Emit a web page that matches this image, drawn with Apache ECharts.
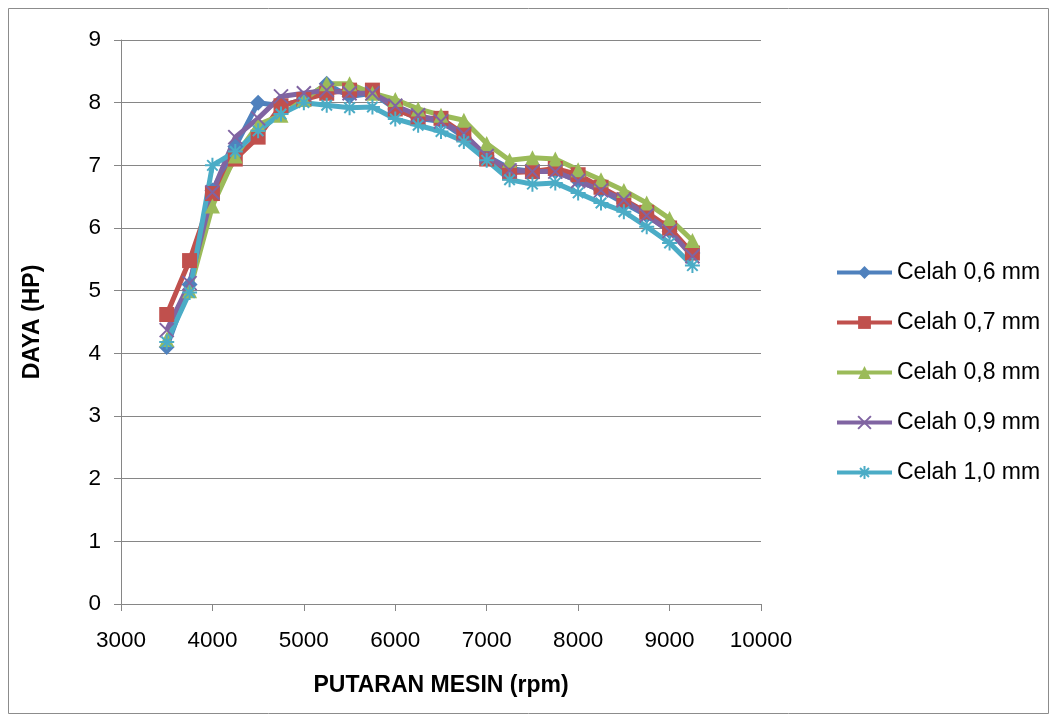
<!DOCTYPE html>
<html>
<head>
<meta charset="utf-8">
<script src="https://cdn.jsdelivr.net/npm/echarts@6/dist/echarts.min.js"></script>
<style>
  html, body { margin: 0; padding: 0; background: #fff; }
  #chart { width: 1057px; height: 722px; }
</style>
</head>
<body>
<div id="chart"></div>
<script>
// putaran mesin (rpm)
var rpm = [3500, 3750, 4000, 4250, 4500, 4750, 5000, 5250, 5500, 5750, 6000, 6250,
  6500, 6750, 7000, 7250, 7500, 7750, 8000, 8250, 8500, 8750, 9000, 9250]

// daya (HP) tiap celah
var celah06 = [4.1, 5.1, 6.6, 7.3, 8.0, 7.95, 8.05, 8.3, 8.1, 8.15, 7.9, 7.75,
  7.7, 7.45, 7.15, 6.95, 6.9, 6.9, 6.75, 6.6, 6.4, 6.2, 5.95, 5.6]
var celah07 = [4.62, 5.48, 6.55, 7.1, 7.45, 7.95, 8.05, 8.15, 8.2, 8.2, 7.9, 7.75,
  7.75, 7.5, 7.1, 6.88, 6.9, 6.95, 6.85, 6.65, 6.45, 6.25, 6.0, 5.6]
var celah08 = [4.22, 5.0, 6.35, 7.15, 7.65, 7.8, 8.05, 8.3, 8.3, 8.15, 8.05, 7.9,
  7.8, 7.72, 7.35, 7.08, 7.12, 7.1, 6.93, 6.77, 6.6, 6.4, 6.15, 5.8]
var celah09 = [4.37, 5.12, 6.57, 7.45, 7.75, 8.1, 8.15, 8.2, 8.15, 8.15, 7.95, 7.8,
  7.7, 7.5, 7.15, 6.92, 6.9, 6.9, 6.75, 6.6, 6.45, 6.2, 5.95, 5.55]
var celah10 = [4.18, 4.97, 7.0, 7.22, 7.55, 7.82, 8.0, 7.96, 7.92, 7.93, 7.74, 7.64,
  7.54, 7.38, 7.08, 6.77, 6.7, 6.72, 6.56, 6.4, 6.26, 6.02, 5.76, 5.4]

var names = ['Celah 0,6 mm', 'Celah 0,7 mm', 'Celah 0,8 mm', 'Celah 0,9 mm', 'Celah 1,0 mm']
var values = [celah06, celah07, celah08, celah09, celah10]
var colors = ['#4F81BD', '#C0504D', '#9BBB59', '#8064A2', '#4BACC6']
var symbols = [
  'diamond',
  'rect',
  'triangle',
  'path://M0,0L10,10M10,0L0,10',
  'path://M5,0L5,10M0,5L10,5M1.5,1.5L8.5,8.5M8.5,1.5L1.5,8.5'
]
var sizes = [16, 15, 15, 14, 15]

function pairs (ys) {
  var out = []
  for (var i = 0; i < rpm.length; i++) {
    out.push([rpm[i], ys[i]])
  }
  return out
}

var series = []
for (var k = 0; k < names.length; k++) {
  var stroked = k >= 3
  series.push({
    name: names[k],
    type: 'line',
    data: pairs(values[k]),
    symbol: symbols[k],
    symbolSize: sizes[k],
    showAllSymbol: true,
    lineStyle: { color: colors[k], width: 5 },
    itemStyle: {
      color: colors[k],
      borderColor: colors[k],
      borderWidth: stroked ? 2 : 0
    },
    emphasis: { disabled: true },
    animation: false
  })
}

var fontFam = '"Liberation Sans", "DejaVu Sans", sans-serif'
var myChart = echarts.init(document.getElementById('chart'))
myChart.setOption({
  backgroundColor: '#fff',
  graphic: [{
    type: 'rect',
    shape: { x: 8.5, y: 8.5, width: 1040, height: 705 },
    style: { fill: 'none', stroke: '#8c8c8c', lineWidth: 1 },
    silent: true
  }],
  grid: { left: 121, top: 40, width: 640, height: 564 },
  legend: {
    orient: 'vertical',
    left: 835,
    top: 261,
    padding: 0,
    itemWidth: 55,
    itemHeight: 16,
    itemGap: 27,
    lineStyle: { width: 4 },
    textStyle: { fontFamily: fontFam, fontSize: 23, lineHeight: 22, color: '#000' },
    data: names
  },
  xAxis: {
    type: 'value',
    min: 3000,
    max: 10000,
    interval: 1000,
    name: 'PUTARAN MESIN (rpm)',
    nameLocation: 'middle',
    nameGap: 70,
    nameTextStyle: { fontFamily: fontFam, fontSize: 23, fontWeight: 'bold', color: '#000' },
    axisLine: { show: true, lineStyle: { color: '#868686' } },
    axisTick: { show: true, length: 7, lineStyle: { color: '#868686' } },
    axisLabel: {
      fontFamily: fontFam, fontSize: 22.5, color: '#000', margin: 25,
      formatter: function (v) { return String(v) }
    },
    splitLine: { show: false }
  },
  yAxis: {
    type: 'value',
    min: 0,
    max: 9,
    interval: 1,
    name: 'DAYA (HP)',
    nameLocation: 'middle',
    nameGap: 77,
    nameTextStyle: { fontFamily: fontFam, fontSize: 23, fontWeight: 'bold', color: '#000' },
    axisLine: { show: true, lineStyle: { color: '#868686' } },
    axisTick: { show: true, length: 7, lineStyle: { color: '#868686' } },
    axisLabel: { fontFamily: fontFam, fontSize: 22.5, color: '#000', margin: 20 },
    splitLine: { show: true, lineStyle: { color: '#868686', width: 1 } }
  },
  series: series
})
</script>
</body>
</html>
